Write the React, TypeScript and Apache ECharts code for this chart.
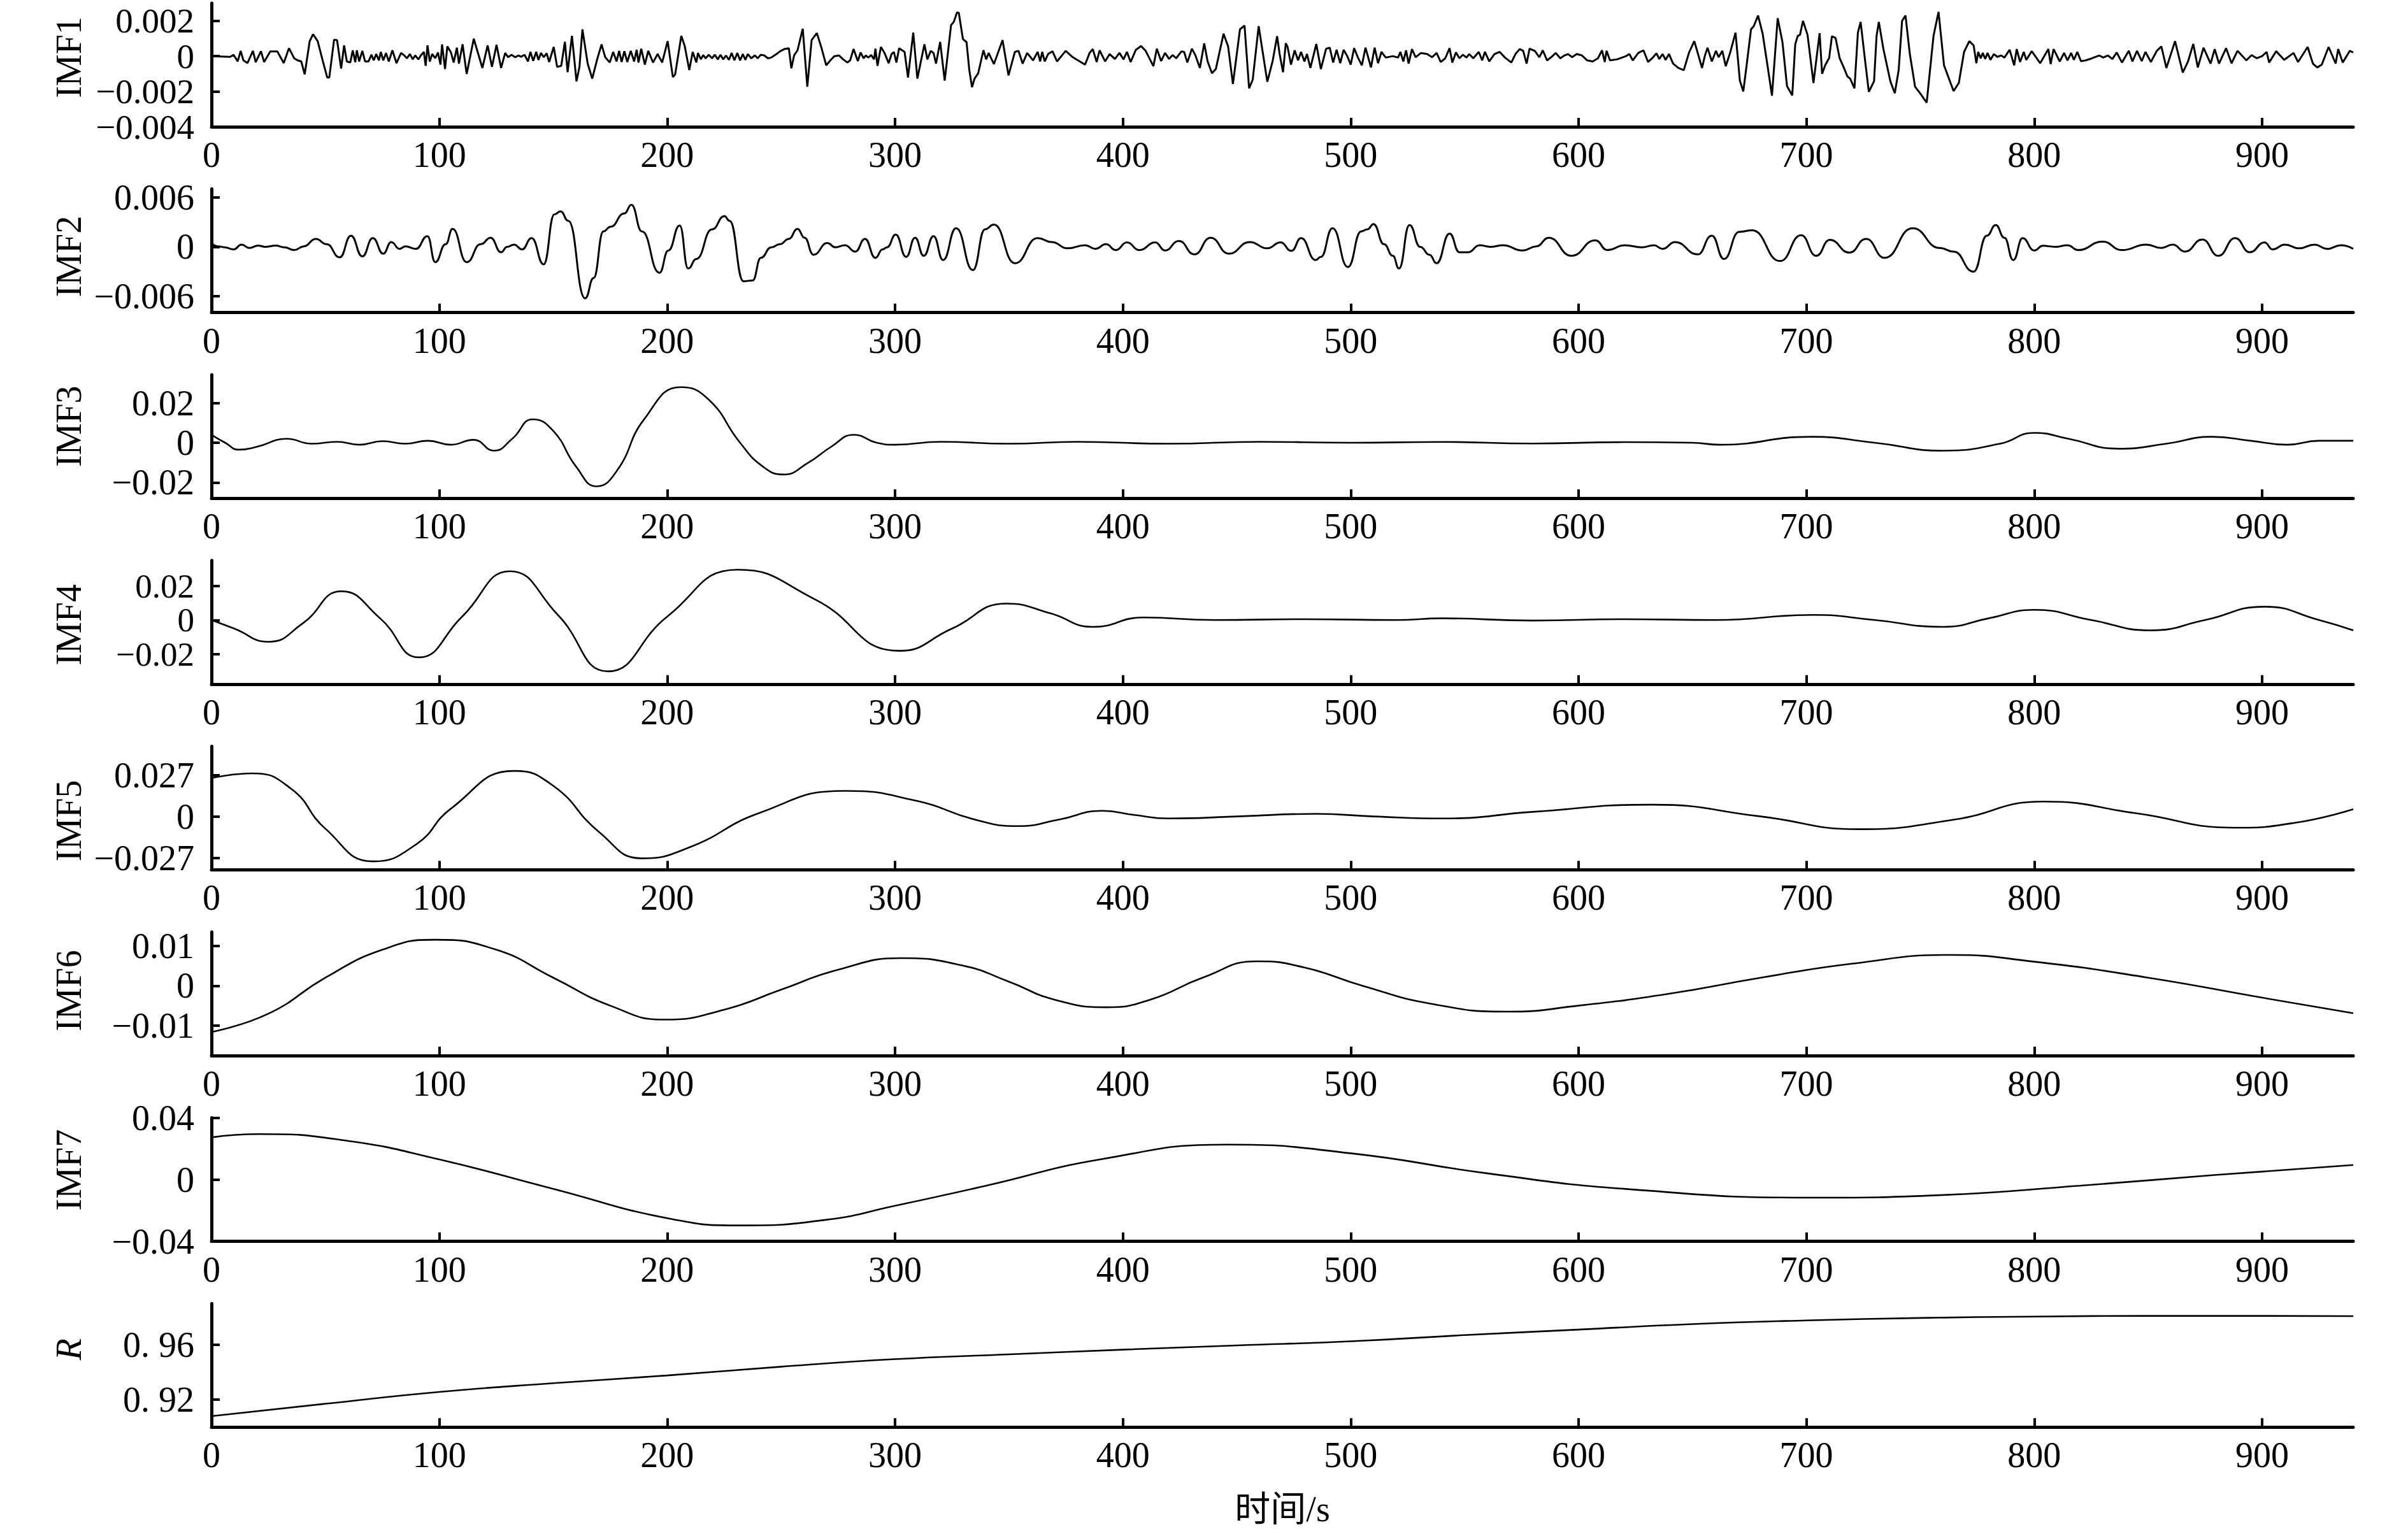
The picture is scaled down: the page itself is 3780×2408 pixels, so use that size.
import React, { useEffect, useRef } from "react";
import * as echarts from "echarts";

const X_TICKS = [0, 100, 200, 300, 400, 500, 600, 700, 800, 900];
const X_MAX = 940;

const IMF1: [number, number][] = [
  [0,0],[8.2,-0.00004],[9.7,0.00008],[11.5,-0.0003],[12.8,0.0003],[14,-0.00024],[15.8,-0.00039],[18.2,0.0003],[19.4,-0.00034],[21.7,0.00028],[23.1,-0.00033],[25.8,0.00027],[28.9,0.00027],[31.7,-0.00039],[34,0.00045],[36.3,-0.00012],[37.8,-0.00024],[39.4,-0.0003],[40.9,-0.00103],[43.1,0.00085],[44.6,0.00124],[46.6,0.00085],[48.9,-0.0003],[50.8,-0.00121],[51.7,-0.00121],[53.8,0.00093],[55.1,0.00091],[56.9,-0.0007],[58.2,0.00061],[59.4,-0.0003],[60.9,-0.00036],[62,0.00033],[63.1,-0.00034],[63.8,0.00033],[64.8,-0.0003],[66.2,0.0003],[67.4,-0.0003],[68.9,-0.0003],[70.2,0.00008],[71.2,-0.00024],[72.3,0.00012],[73.5,-0.00024],[74.3,0.00024],[75.4,-0.00024],[76.6,0.00018],[77.8,-0.0003],[79.4,0.00033],[81.2,-0.0004],[83.2,0.00018],[84.6,0.00004],[85.8,-0.00012],[87.1,0.00012],[88.3,-0.00018],[89.4,0.00004],[90.8,-0.00018],[92,0.00006],[93.2,0.00024],[94,-0.00055],[94.8,0.00061],[95.8,-0.0003],[96.9,0.00012],[98.2,-0.00012],[99.4,0.00021],[100.5,-0.00048],[101.2,0.00067],[102.5,-0.00073],[103.5,0.00055],[105.1,0.00021],[106.3,-0.00036],[107.7,0.00048],[108.6,-0.00042],[110.2,0.00067],[112,-0.00101],[115.1,0.00099],[118.9,-0.00067],[121.2,0.00061],[123.1,-0.00061],[125.1,0.00064],[127.1,-0.00067],[128.9,0.00018],[130.2,-0.00006],[131.7,0.00008],[133.2,-0.00006],[134.8,0.00004],[135.8,-0.00004],[137.4,0.00008],[138.9,-0.0003],[140,0.00024],[141.2,-0.00027],[142.5,0.00024],[143.5,-0.00021],[144.6,0.00018],[145.8,-0.00006],[147.1,0.00016],[148.2,-0.00033],[150.2,0.00052],[151.7,-0.00061],[153.5,-0.00055],[155.1,0.00081],[156.3,-0.00091],[158.2,0.00115],[160.2,-0.00143],[161.5,-0.00061],[162.8,0.00152],[165.1,-0.00042],[167.1,-0.00127],[169.4,-0.00012],[171.2,0.00067],[172.8,-0.00006],[174.8,-0.00036],[176.3,0.00024],[177.8,-0.0003],[178.9,0.0003],[180,-0.00033],[181.2,0.00028],[182.5,-0.00033],[184,0.0003],[185.5,-0.0003],[186.6,0.00036],[187.4,-0.00036],[188.6,0.00042],[190.2,-0.00048],[191.7,0.0003],[193.8,-0.00036],[195.8,0.00012],[197.8,-0.00036],[200.2,0.00085],[202.5,-0.00119],[203.5,-0.00103],[206.2,0.00115],[207.7,0.00057],[209.7,-0.00079],[211.2,0.00024],[212.8,-0.00036],[213.5,0.00018],[214.8,-0.00018],[215.8,0.00006],[216.9,-0.00012],[218.2,0.00008],[219.7,-0.00012],[220.9,0.00008],[222.2,-0.00018],[223.4,0.00008],[224.6,-0.00018],[225.8,0.00004],[227.1,-0.00021],[228.3,0.00018],[229.5,-0.00024],[230.8,0.00018],[232,-0.00024],[233.2,0.00012],[234.3,-0.00021],
  [235.4,0.00012],[236.9,-0.00012],[238.5,0.00004],[239.7,-0.00012],[241.1,0.00008],[242.6,0.00004],[244.2,-0.00012],[245.7,-0.00008],[248,0.00012],[249.5,0.00027],[251.4,0.0004],[253.4,0.00045],[254.5,-0.00069],[255.7,0.00004],[257.2,0.00033],[259.5,0.00155],[261.5,-0.00173],[263.4,0.00091],[265.7,0.00131],[267.7,0.00048],[269.8,-0.00052],[271.8,-0.00021],[273.4,0],[275.4,0.00004],[277.2,-0.00018],[279.1,-0.00036],[280.3,-0.00024],[281.8,0.0004],[283.7,-0.00028],[284.9,0.00021],[286.2,-0.00012],[287.2,0.00004],[288.3,-0.00008],[289.5,0.00006],[290.8,-0.00018],[291.4,0.00042],[292.3,-0.00055],[293.8,0.00052],[295.4,0.00018],[297.2,-0.0004],[298.5,0.00012],[299.5,0.00024],[300.6,-0.00036],[301.8,0.00045],[304.2,0.00024],[305.7,-0.00121],[308,0.00133],[309.8,-0.00127],[312.9,0.00067],[314.2,-0.00018],[315.7,0.0003],[316.9,0.00018],[318,-0.00042],[319.8,0.00081],[321.8,-0.00139],[324.6,0.00176],[325.8,0.00194],[327.2,0.00248],[328,0.00245],[329.8,0.00097],[331.4,0.00079],[332.6,-0.00079],[333.8,-0.00176],[334.9,-0.00127],[336.5,-0.00097],[338.8,0.00034],[340,-0.00018],[341.1,0.00018],[343.4,-0.00045],[347.2,0.00091],[349.8,-0.00109],[352.6,0.00024],[354.2,0.0003],[356,-0.00042],[358,0.00018],[360.6,-0.00024],[362.6,0.00024],[363.7,-0.0003],[364.6,0.00024],[365.7,-0.0003],[367.2,0.00012],[369.1,0.00028],[371.1,-0.0003],[374.9,0.0003],[378,-0.00006],[383.4,-0.00048],[385.4,0.00018],[386.8,0.0004],[388.5,-0.00033],[389.8,0.00033],[392.2,-0.0003],[394.2,0.00012],[396.5,-0.00016],[398.5,0.00018],[400.3,-0.00018],[401.8,0.00024],[403.4,-0.00033],[405.7,0.00036],[408,0.00057],[410,0.0003],[413.4,-0.00057],[414.9,0.00042],[416.8,-0.00028],[418.5,0.00018],[420.3,-0.00016],[421.8,0.00006],[423.4,-0.00012],[425.7,0.00027],[426.9,0.00024],[428.3,-0.00036],[430.3,0.00042],[431.8,0.00006],[433.8,-0.00067],[435.7,0.00073],[437.2,-0.0003],[439.1,-0.00097],[440.8,-0.00073],[444.2,0.00127],[446.2,0.00055],[448.3,-0.00158],[451.4,0.00152],[453.4,0.00173],[455.4,-0.00182],[457,-0.00133],[459.6,0.0017],[463.4,-0.00145],[465.7,-0.0003],[467.7,0.00113],[468.8,0.00012],[470.3,-0.00091],[471.5,0.00073],
  [472.3,0.00052],[473.8,-0.00048],[475.4,0.00033],[476.9,-0.00024],[478.2,0.00024],[479.7,-0.0003],[480.8,0.00012],[482.3,-0.00067],[484.9,0.00069],[486.9,-0.00073],[489.2,0.00042],[490.8,0.00048],[492.3,-0.00036],[493.8,0.00036],[495.4,-0.0004],[496.9,0.00036],[498.5,0],[500,-0.00048],[501.5,0.00045],[503.1,-0.00006],[504.9,-0.00052],[506.5,0.00048],[508.9,-0.00064],[510.5,0.00048],[512,-0.0004],[513.5,0.00024],[515.4,-0.00008],[518.5,0],[520.8,-0.00008],[521.8,0.00024],[523.1,-0.0003],[524.3,0.00033],[525.4,-0.00042],[526.9,0.0004],[528.5,-0.00006],[530.8,0.00018],[533.5,0.00012],[535.7,-0.00006],[537.7,0.00018],[539.5,-0.00033],[541.5,-0.00012],[543.4,0.00045],[544.6,-0.00036],[546.2,0.00021],[547.7,-0.00012],[549.2,0.00008],[550.8,-0.00008],[552,0.00012],[553.8,-0.00012],[556.2,0.00024],[557.7,-0.00024],[558.9,0.00024],[560.8,-0.0003],[563.1,0.00012],[565.4,0.00024],[567.7,-0.00008],[570.5,-0.00036],[572.3,0.00012],[574.2,0.0004],[575.7,0.0003],[577.2,-0.00042],[578.5,0.00042],[580.8,0.0003],[582.8,-0.00006],[584.3,0.00033],[586.2,-0.00024],[588,-0.00006],[590,0.00018],[592,-0.00012],[593.8,0.00004],[595.4,0.00012],[597.2,-0.00006],[599.2,0.00012],[601.5,0.00004],[603.8,-0.00024],[606.2,-0.0003],[608.5,-0.00012],[610.3,0.00033],[611.5,-0.00033],[612.3,0.0003],[613.8,-0.00024],[616.9,-0.00018],[620.8,0],[622.3,0.00012],[623.8,-0.00024],[626.2,0.00018],[628.5,0.00033],[630.5,-0.00033],[632.3,-0.00012],[634.2,0.00016],[635.4,-0.00016],[636.9,0.00012],[638.2,-0.00021],[639.7,0.00012],[641.5,-0.00042],[643.8,-0.00067],[646.2,-0.00079],[648.5,0.00021],[650.8,0.00085],[652.3,0.00018],[654.2,-0.00067],[655.4,0],[656.6,0.00048],[658.5,-0.0003],[660.3,0.0003],[661.5,-0.00006],[663.1,0.0003],[664.6,-0.00057],[666.5,0.00018],[668.9,0.00133],[670.8,-0.00139],[672.3,-0.002],[673.8,-0.00048],[675.7,0.00152],[676.9,0.0017],[678.8,0.0023],[680.8,0.00127],[682.8,-0.00042],[684.9,-0.00224],[687.4,0.00215],[689.5,0.00079],[691.5,-0.0017],[693.8,-0.00222],[695.1,0.00067],[696.2,0.00115],[697.2,0.00121],[698.5,0.002],[700.5,0.00121],[703.1,-0.00152],[705.8,0.0013],
  [706.9,-0.001],[708.3,-0.0005],[710,-0.0001],[711.2,0.00113],[712.8,0.00103],[714.6,-0.00012],[716.5,-0.00067],[718,-0.00115],[719.2,-0.00127],[721.1,-0.00182],[722.6,0.00133],[723.8,0.00194],[725.7,-0.00018],[727.4,-0.00202],[729.7,-0.00142],[730.8,0.00115],[731.8,0.00194],[733.8,0.0004],[736.9,-0.00145],[738.8,-0.0021],[740.5,-0.00079],[742,0.002],[743.5,0.0023],[745.4,0.00012],[747.7,-0.00173],[750,-0.00212],[752.8,-0.00263],[755.8,0.00115],[758,0.00251],[760.4,-0.00052],[764.6,-0.00198],[766.9,-0.00152],[769.2,0.00024],[771.5,0.00085],[773.4,0.00061],[774.6,-0.0004],[775.4,0.00024],[776.5,-0.00012],[777.4,0.00018],[778.5,-0.00016],[779.5,0.00018],[780.8,-0.00021],[782.3,0.00012],[783.8,-0.00004],[785.4,0.00004],[786.9,-0.00008],[789.2,0.00036],[791.2,-0.00052],[792.3,0.0004],[793.8,-0.00033],[795.4,0.00024],[796.5,-0.00021],[798.9,0.00028],[802.6,-0.0004],[806.2,0.0004],[807.2,-0.00045],[808.5,0.0004],[811.2,-0.0003],[813.1,0.00018],[814.6,-0.00024],[816.2,0.00018],[817.4,-0.00021],[818.9,0.00024],[820.5,-0.00028],[822.6,-0.00024],[825.4,-0.00012],[828.5,0.00004],[830.3,-0.00008],[832.3,0.00004],[834.3,-0.00016],[836.2,0.00021],[838.5,-0.00036],[841.5,0.0003],[843.1,-0.0003],[845.1,0.0003],[847.2,-0.00028],[848.8,0.00024],[851.2,-0.00033],[853.8,0.0003],[855.8,0.00055],[858,-0.00067],[861.8,0.00085],[865.2,-0.00093],[867.5,-0.0003],[869.8,0.00069],[871.8,-0.00064],[874.3,0.00048],[877.4,-0.00042],[879.2,0.0004],[881.1,-0.00042],[884.2,0.00045],[886.6,-0.0004],[889.2,0.0003],[893.1,-0.00024],[895.4,0.00006],[897.7,-0.00012],[900,0],[902,0.00024],[903.1,-0.00036],[906.2,0.00028],[909.7,-0.00021],[913.8,0.00018],[915.8,-0.00033],[920,0.00052],[922.3,-0.00042],[924.2,-0.00064],[926.2,-0.00048],[929.2,0.00052],[932.3,-0.00042],[933.4,0.0004],[935.4,-0.00036],[938.5,0.0003],[940,0.00021]
];

const IMF2: [number, number][] = [
  [0,0.00045],[2.8,0.00006],[5.8,-0.00006],[9.7,-0.00032],[13.2,0.00027],[16.6,-0.00014],[20.5,0.00014],[23.5,0],[28.2,0.00014],[32,-0.00006],[36.3,-0.0004],[40.5,0.00006],[45.8,0.00097],[50.5,0.00032],[56.3,-0.00128],[61.2,0.00135],[66.2,-0.00117],[70.8,0.00105],[75.4,-0.00084],[78.9,0.00058],[82.5,-0.00025],[85.1,0.00006],[89.7,-0.00025],[94.8,0.0013],[98.2,-0.00187],[102.8,0.00032],[105.8,0.00218],[112,-0.00187],[118.2,0.00032],[122.5,0.0011],[127.1,-0.00066],[129.7,0],[132.8,0.00027],[136.3,-0.00032],[140.5,0.00105],[145.8,-0.00213],[150.5,0.00394],[153.2,0.00432],[156.6,0.00316],[164,-0.00626],[167.7,-0.00381],[172,0.00187],[175.1,0.00244],[181.2,0.00406],[184.3,0.0051],[188.9,0.00187],[196.6,-0.00316],[200.5,-0.00045],[205.5,0.00259],[209.2,-0.00265],[212.8,-0.00148],[219.7,0.00213],[225.1,0.00373],[227.4,0.00316],[233.5,-0.00419],[237.5,-0.0041],[241.1,-0.00135],[245.7,-0.00006],[249.5,0.00032],[253.4,0.00097],[257.2,0.00218],[260.3,0.0011],[264.2,-0.00097],[270.3,0.00045],[273.8,-0.00006],[278,0.00019],[282.6,-0.00058],[286.8,0.00097],[291.4,-0.00135],[294.5,-0.00032],[296.5,-0.00006],[300.3,0.00148],[304.9,-0.00123],[308.8,0.0011],[312.6,-0.0011],[316.9,0.0013],[321.1,-0.00161],[326.8,0.00226],[334.2,-0.00283],[339.5,0.00213],[343.4,0.0027],[352.6,-0.002],[362.6,0.00105],[368.8,0.00058],[375.7,-0.00019],[383.4,0.00019],[388,-0.00025],[392.6,0.00032],[396.9,-0.0004],[401.8,0.00053],[407.2,-0.0004],[414.2,0.00053],[418.5,-0.00045],[424.6,0.00071],[431.4,-0.00092],[438.5,0.0011],[446.5,-0.00084],[455.7,0.00058],[463.4,-0.00019],[469.2,0.00053],[474,-0.0005],[478.2,0.00105],[484.6,-0.00161],[486.9,-0.00123],[492,0.00226],[498.8,-0.00246],[504.6,0.00187],[507.4,0.00213],[510,0.00277],[514.6,0.00032],[518.5,-0.0011],[521.2,-0.00265],[525.8,0.00265],[530.5,0],[534.6,-0.00097],[537.7,-0.002],[543.4,0.00161],[547.7,-0.00066],[551.5,-0.00066],[556.6,0.00019],[561.2,0],[566.9,0.00019],[575.4,-0.00045],[581.5,0.00006],[586.9,0.0011],[596.9,-0.0011],[607.4,0.00079],[612.6,-0.0004],[620.3,0.00019],[627.7,-0.00006],[633.1,0.00019],[636.9,-0.00025],[642.3,0.00058],[652.3,-0.00092],[658.5,0.00135],[663.8,-0.00148],[670.5,0.00182],[676.2,0.002],[688.5,-0.00174],[697.7,0.0014],[704.3,-0.0011],[710.3,0.00084],[718.9,-0.00071],[726.2,0.00097],[734.3,-0.00135],[746.6,0.00226],[758.5,-0.00014],[764.6,-0.00058],[773.4,-0.00303],[779.2,0.00135],[783.1,0.00265],[786.9,0.0011],[790.8,-0.00161],[794.9,0.00105],[800,-0.00045],[803.8,0.00012],[809.2,0],[814.6,0.00019],[819.2,-0.0004],[830,0.00063],[838.5,-0.0004],[849.2,0.00027],[855.8,-0.00014],[860.8,0.00027],[866.2,-0.00058],[873.8,0.00089],[880.8,-0.0011],[888.2,0.00105],[894.6,-0.00066],[901.1,0.00053],[904.6,-0.00032],[910,0.00027],[916.2,-0.00019],[923.1,0.00027],[928.5,-0.00025],[934.6,0.00019],[940,-0.00025]
];

const IMF3: [number, number][] = [
  [0,0.004],[6,0],[12,-0.0035],[20,-0.002],[33,0.002],[44,-0.0005],[55,0.0005],[65,-0.001],[75,0.0008],[85,-0.0005],[95,0.001],[105,-0.001],[115,0.0015],[124,-0.004],[132,0.002],[141,0.0118],[150,0.006],[160,-0.012],[169,-0.022],[178,-0.014],[190,0.012],[206,0.028],[218,0.022],[232,0],[242,-0.012],[251,-0.016],[262,-0.01],[272,-0.002],[282,0.004],[292,0],[300,-0.001],[320,0.0005],[350,-0.0005],[380,0.0005],[420,-0.0005],[460,0.0005],[500,0],[540,0.0004],[580,-0.0004],[620,0.0003],[650,0],[662,-0.001],[702,0.003],[730,0],[760,-0.004],[785,-0.0005],[800,0.005],[815,0.002],[837,-0.003],[858,-0.0005],[878,0.003],[895,0.001],[911,-0.001],[925,0.001],[940,0.001]
];

const IMF4: [number, number][] = [
  [0,0],[10,-0.005],[25,-0.0127],[40,-0.002],[57,0.0168],[74,0.001],[91,-0.0218],[110,0.002],[131,0.0285],[152,0.003],[174,-0.03],[200,0.002],[231,0.0294],[265,0.012],[302,-0.018],[325,-0.005],[349,0.0096],[368,0.004],[387,-0.004],[409,0.0015],[440,0],[480,0.0005],[520,0],[540,0.001],[580,-0.0003],[620,0.0005],[660,0],[703,0.003],[730,0],[760,-0.004],[780,0.001],[800,0.006],[825,0],[851,-0.006],[875,0],[901,0.0078],[925,0],[940,-0.006]
];

const IMF5: [number, number][] = [
  [0,0.025],[18,0.0281],[35,0.018],[50,-0.008],[71,-0.0293],[90,-0.018],[105,0.005],[133,0.0297],[150,0.02],[170,-0.01],[189,-0.0273],[210,-0.02],[240,0.002],[278,0.0167],[310,0.01],[335,-0.002],[354,-0.0063],[372,-0.002],[391,0.0037],[405,0.001],[420,-0.0013],[450,0],[485,0.0017],[510,0],[541,-0.0013],[580,0.003],[632,0.0077],[680,0],[723,-0.0083],[765,-0.002],[804,0.0097],[845,0.002],[888,-0.0073],[915,-0.004],[940,0.0047]
];

const IMF6: [number, number][] = [
  [0,-0.0116],[25,-0.007],[50,0.002],[75,0.009],[98,0.0115],[125,0.009],[150,0.002],[175,-0.005],[199,-0.0085],[225,-0.006],[250,-0.001],[275,0.004],[303,0.0069],[330,0.005],[350,0.001],[370,-0.0035],[393,-0.0054],[412,-0.0035],[435,0.002],[459,0.0061],[480,0.0045],[505,0.0],[535,-0.0045],[569,-0.0065],[600,-0.005],[640,-0.002],[680,0.002],[720,0.0055],[763,0.0077],[800,0.006],[850,0.002],[900,-0.003],[940,-0.0069]
];

const IMF7: [number, number][] = [
  [0,0.0273],[21,0.0294],[60,0.025],[100,0.013],[150,-0.006],[200,-0.025],[232,-0.0297],[270,-0.026],[300,-0.017],[340,-0.004],[390,0.013],[446,0.0226],[500,0.017],[560,0.004],[620,-0.006],[703,-0.0117],[760,-0.01],[820,-0.004],[880,0.003],[940,0.0094]
];

const RES: [number, number][] = [
  [0,0.908],[50,0.917],[100,0.9256],[150,0.932],[200,0.9376],[250,0.944],[300,0.9495],[350,0.953],[400,0.9564],[450,0.9595],[500,0.9625],[550,0.967],[600,0.971],[650,0.975],[700,0.9777],[750,0.9795],[800,0.9805],[850,0.981],[900,0.981],[940,0.9808]
];

const NAMES = ["IMF1", "IMF2", "IMF3", "IMF4", "IMF5", "IMF6", "IMF7", "R"];
const Y_TICKS = [
  [-0.004, -0.002, 0, 0.002],
  [-0.006, 0, 0.006],
  [-0.02, 0, 0.02],
  [-0.02, 0, 0.02],
  [-0.027, 0, 0.027],
  [-0.01, 0, 0.01],
  [-0.04, 0, 0.04],
  [0.92, 0.96],
];
const Y_LABELS = [
  ["−0.004", "−0.002", "0", "0.002"],
  ["−0.006", "0", "0.006"],
  ["−0.02", "0", "0.02"],
  ["−0.02", "0", "0.02"],
  ["−0.027", "0", "0.027"],
  ["−0.01", "0", "0.01"],
  ["−0.04", "0", "0.04"],
  ["0. 92", "0. 96"],
];
const Y_MIN = [-0.004, -0.008, -0.028, -0.0374, -0.0348, -0.0175, -0.04, 0.9];
const Y_MAX = [0.003, 0.00704, 0.0343, 0.0348, 0.0458, 0.01344, 0.04, 0.99];
// vertical shift (px, + = down) of each panel's axis name from the panel centre
const NAME_SHIFT = [-12, 9, -16, 4, 20, -5, -15, -25];
// y tick-label font size per panel (IMF4's ticks are the most tightly spaced)
const Y_LABEL_SIZE = [55, 56, 56, 53, 56, 56, 56, 56];

const FONT = '"Liberation Serif", "Times New Roman", "Noto Sans CJK SC", serif';

export default function App() {
  const ref = useRef<HTMLDivElement>(null);
  useEffect(() => {
    if (!ref.current) return;
    const chart = echarts.init(ref.current, null, { renderer: "svg" });
    const allData = [IMF1, IMF2, IMF3, IMF4, IMF5, IMF6, IMF7, RES];
    const grids: any[] = [];
    const xAxes: any[] = [];
    const yAxes: any[] = [];
    const series: any[] = [];
    const left = 332;
    const width = 3362;
    const height = 194;
    const step = 291.6;
    const labelStyle = {
      show: true,
      showMinLabel: true,
      showMaxLabel: true,
      hideOverlap: false,
      color: "#000",
      fontSize: 56,
      fontFamily: FONT,
    };
    for (let i = 0; i < 8; i++) {
      const top = 5 + i * step;
      grids.push({ left, width, top, height, containLabel: false, outerBoundsMode: "none" });
      const isLast = i === 7;
      xAxes.push({
        type: "value",
        gridIndex: i,
        min: 0,
        max: X_MAX,
        splitLine: { show: false },
        axisLine: { show: true, onZero: false, lineStyle: { color: "#000", width: 5 } },
        axisTick: {
          show: true,
          inside: true,
          length: 14,
          lineStyle: { color: "#000", width: 4 },
          customValues: X_TICKS.slice(1),
        },
        axisLabel: {
          ...labelStyle,
          customValues: X_TICKS,
          margin: 16,
          formatter: (v: number) => String(Math.round(v)),
        },
        name: isLast ? "时间/s" : "",
        nameLocation: "middle",
        nameGap: 101,
        nameTextStyle: { color: "#000", fontSize: 56, fontFamily: FONT },
      });
      const ticks = Y_TICKS[i];
      const labels = Y_LABELS[i];
      const fmt = (v: number) => {
        let best = 0;
        let bd = Infinity;
        ticks.forEach((t, k) => {
          const d = Math.abs(t - v);
          if (d < bd) { bd = d; best = k; }
        });
        return labels[best];
      };
      // Labels are split over two overlapping axes (even / odd ticks) so that
      // tightly spaced tick labels are not removed by label-overlap culling.
      const evenTicks = ticks.filter((_, k) => k % 2 === 0);
      const oddTicks = ticks.filter((_, k) => k % 2 === 1);
      const s = NAME_SHIFT[i];
      const namePad = s < 0 ? [0, 0, 0, -2 * s] : [0, 2 * s, 0, 0];
      const ySize = Y_LABEL_SIZE[i];
      yAxes.push({
        type: "value",
        gridIndex: i,
        position: "left",
        min: Y_MIN[i],
        max: Y_MAX[i],
        splitLine: { show: false },
        axisLine: { show: true, onZero: false, lineStyle: { color: "#000", width: 5 } },
        axisTick: {
          show: true,
          inside: true,
          length: 13,
          lineStyle: { color: "#000", width: 4 },
          customValues: ticks,
        },
        axisLabel: {
          ...labelStyle,
          fontSize: ySize,
          lineHeight: 44,
          customValues: evenTicks,
          margin: 27,
          formatter: fmt,
        },
        name: NAMES[i],
        nameLocation: "middle",
        nameRotate: 90,
        nameGap: 196,
        nameTextStyle: {
          color: "#000",
          fontSize: 56,
          fontFamily: FONT,
          fontStyle: isLast ? "italic" : "normal",
          padding: namePad,
        },
      });
      yAxes.push({
        type: "value",
        gridIndex: i,
        position: "left",
        offset: 0,
        min: Y_MIN[i],
        max: Y_MAX[i],
        splitLine: { show: false },
        axisLine: { show: false, onZero: false },
        axisTick: { show: false },
        axisLabel: {
          ...labelStyle,
          fontSize: ySize,
          lineHeight: 44,
          show: oddTicks.length > 0,
          customValues: oddTicks.length > 0 ? oddTicks : [ticks[0]],
          margin: 27,
          formatter: fmt,
        },
      });
      series.push({
        type: "line",
        xAxisIndex: i,
        yAxisIndex: 2 * i,
        data: allData[i],
        showSymbol: false,
        symbol: "none",
        smooth: i === 0 ? false : i === 1 ? 0.5 : true,
        smoothMonotone: i === 1 ? "x" : undefined,
        lineStyle: { color: "#000", width: i < 2 ? 3 : 2.6 },
        silent: true,
      });
    }
    chart.setOption({
      animation: false,
      backgroundColor: "#fff",
      textStyle: { fontFamily: FONT },
      grid: grids,
      xAxis: xAxes,
      yAxis: yAxes,
      series,
    });
    return () => chart.dispose();
  }, []);
  return (
    <div
      ref={ref}
      style={{ position: "absolute", left: 0, top: 0, width: 3780, height: 2408, background: "#fff" }}
    />
  );
}
